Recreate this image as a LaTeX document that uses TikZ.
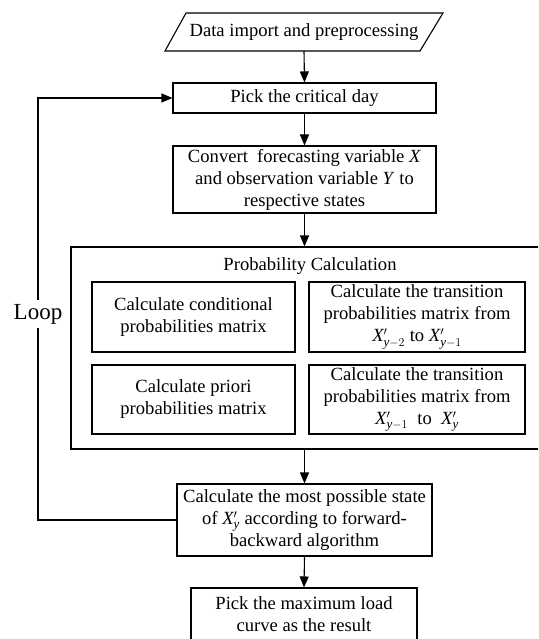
\documentclass[tikz,border=0pt]{standalone}
\usepackage{fontspec}
\setmainfont{Liberation Serif}
\usetikzlibrary{arrows.meta}
\begin{document}
\begin{tikzpicture}[x=1pt,y=-1pt,
  every node/.style={font=\fontsize{18.6}{22}\selectfont, align=center, inner sep=0pt},
  box/.style={draw, line width=1.1pt},
  conn/.style={line width=1.1pt, -{Triangle[length=11pt,width=9pt]}},
  plain/.style={line width=1.1pt}]
\useasboundingbox (0,0) rectangle (538,639);
\fill[white] (0,0) rectangle (538,639);
\begin{scope}
\clip (0,0) rectangle (538,639);

% input parallelogram
\draw[plain] (165,51) -- (186,13) -- (443,13) -- (420,51) -- cycle;
\node (data) at (304,32) {Data import and preprocessing};
\coordinate (dataS) at (304,51);

% main chain
\node[box, minimum width=263pt, minimum height=30pt] (pick) at (304.5,98) {Pick the critical day};
\node[box, minimum width=263pt, minimum height=67pt] (conv) at (304.5,179.5)
  {Convert~ forecasting variable \textit{X}\\and observation variable \textit{Y} to\\respective states};

% probability calculation block
\node[box, minimum width=476pt, minimum height=202pt] (prob) at (309,348) {};
\node (title) at (310,266) {Probability Calculation};
\node[box, minimum width=203pt, minimum height=70pt] (cond) at (193.5,317)
  {Calculate conditional\\probabilities matrix};
\node[box, minimum width=216pt, minimum height=70pt] (transA) at (417,317)
  {Calculate the transition\\probabilities matrix from\\$\mathit{X}'_{\mathit{y}-2}$ to $\mathit{X}'_{\mathit{y}-1}$};
\node[box, minimum width=203pt, minimum height=69pt] (prior) at (193.5,399.5)
  {Calculate priori\\probabilities matrix};
\node[box, minimum width=216pt, minimum height=69pt] (transB) at (417,399.5)
  {Calculate the transition\\probabilities matrix from\\$\mathit{X}'_{\mathit{y}-1}$~ to ~$\mathit{X}'_{\mathit{y}}$};

\node[box, minimum width=255pt, minimum height=72pt] (most) at (304.5,520)
  {Calculate the most possible state\\of $\mathit{X}'_{\mathit{y}}$ according to forward-\\backward algorithm};
\node[box, minimum width=226pt, minimum height=53pt] (last) at (304,614.5)
  {Pick the maximum load\\curve as the result};

% connectors
\draw[conn] (dataS) -- (pick.north);
\draw[conn] (pick.south) -- (conv.north);
\draw[conn] (conv.south) -- (conv.south |- prob.north);
\draw[conn] (most.north |- prob.south) -- (most.north);
\draw[conn] (most.south) -- (last.north);

% feedback loop
\coordinate (lb) at (38,520);
\coordinate (lt) at (38,98);
\draw[conn] (most.west) -- (lb) -- (lt) -- (pick.west);
\node[fill=white, inner ysep=4pt, font=\fontsize{23}{26}\selectfont] (loop) at (38,314) {Loop};
\end{scope}
\end{tikzpicture}
\end{document}
